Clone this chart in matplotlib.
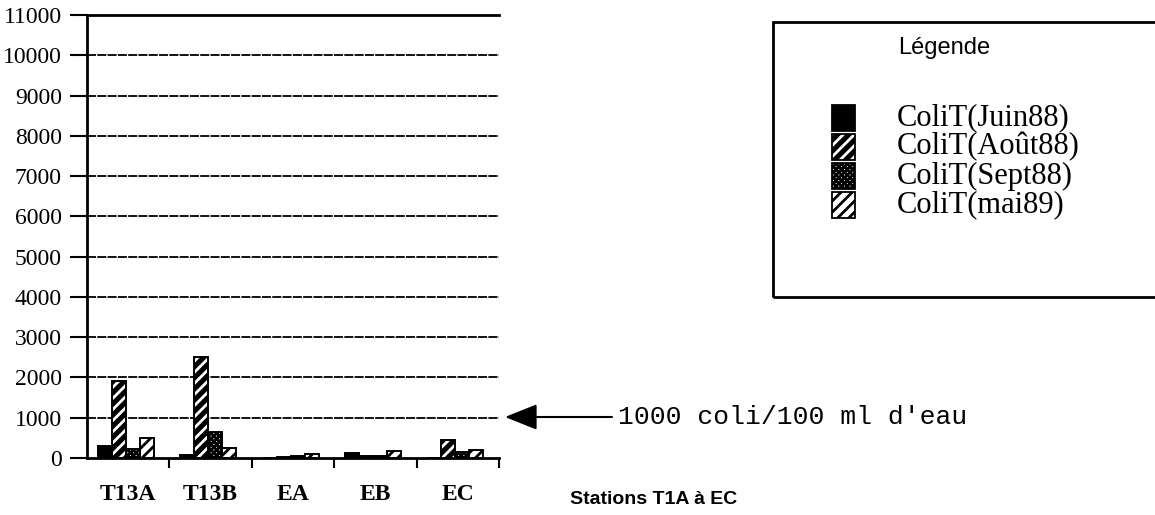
import matplotlib
matplotlib.use('Agg')
import matplotlib.pyplot as plt
from matplotlib.patches import Rectangle
import numpy as np

plt.rcParams['hatch.linewidth'] = 2.0

# Coliformes thermotolérants par station et par campagne
stations = ['T13A', 'T13B', 'EA', 'EB', 'EC']
juin88 = [300, 80, 10, 120, 10]
aout88 = [1900, 2500, 30, 50, 440]
sept88 = [220, 640, 50, 50, 150]
mai89 = [500, 250, 100, 170, 190]

labels = ['ColiT(Juin88)', 'ColiT(Août88)', 'ColiT(Sept88)', 'ColiT(mai89)']
values = [juin88, aout88, sept88, mai89]
# (fond, couleur des hachures, motif)
styles = [('black', 'black', ''),
          ('black', 'white', '///'),
          ('white', 'black', 'xxxxxx'),
          ('white', 'black', '///')]

W, H = 1155, 515
fig = plt.figure(figsize=(W / 100, H / 100), dpi=100)
ax = fig.add_axes([87 / W, 57 / H, 412 / W, 443 / H])

x = np.arange(len(stations))
w = 0.17
for i, (vals, (fc, hc, hatch)) in enumerate(zip(values, styles)):
    pos = x + (i - 1.5) * w - 0.03
    ax.bar(pos, vals, w, color=fc, edgecolor=hc, hatch=hatch, linewidth=0, zorder=3)
    ax.bar(pos, vals, w, fill=False, edgecolor='black', linewidth=1.4, zorder=4)

ax.set_xlim(-0.5, len(stations) - 0.5)
ax.set_ylim(0, 11000)
ax.set_yticks(np.arange(0, 11001, 1000))
ax.set_yticklabels([str(v) for v in range(0, 11001, 1000)],
                   family='Liberation Serif', fontsize=17)
ax.set_xticks(np.arange(0.5, len(stations), 1))
ax.set_xticklabels([])
ax.set_xticks(x, minor=True)
ax.set_xticklabels(stations, minor=True, family='Liberation Serif',
                   fontsize=17, fontweight='bold')
ax.tick_params(axis='x', which='minor', length=0, pad=19)
ax.tick_params(axis='x', which='major', direction='out', length=7, width=1.5)
ax.tick_params(axis='y', direction='out', length=12, width=1.5, pad=6)

for s in ['top', 'right']:
    ax.spines[s].set_visible(False)
ax.spines['left'].set_linewidth(2)
ax.spines['bottom'].set_linewidth(2)

for v in range(1000, 11000, 1000):
    ax.axhline(v, color='black', lw=1.3, ls=(0, (5, 0.7)), zorder=1)
ax.axhline(11000, color='black', lw=2, zorder=1, clip_on=False)

# flèche vers le seuil de 1000 coli
ax.annotate('', xy=(505, H - 417), xycoords='figure pixels',
            xytext=(612, H - 417), textcoords='figure pixels',
            arrowprops=dict(arrowstyle='-|>,head_length=1.0,head_width=0.4',
                            color='black', lw=1.5, mutation_scale=20,
                            shrinkA=0, shrinkB=0))
fig.text(618 / W, 1 - 417 / H, '1000 coli/100 ml d\'eau', family='Liberation Mono',
         fontsize=19, ha='left', va='center')

fig.text(570 / W, 1 - 500 / H, 'Stations T1A à EC', family='Liberation Sans',
         fontweight='bold', fontsize=14, ha='left', va='center')

# légende encadrée
fig.add_artist(Rectangle((773 / W, 1 - 297 / H), 0.4, (297 - 22) / H,
                         transform=fig.transFigure, fill=False,
                         edgecolor='black', lw=2, clip_on=False))
fig.text(898 / W, 1 - 48 / H, 'Légende', family='Liberation Sans',
         fontsize=17, ha='left', va='center')
for k, (lab, (fc, hc, hatch)) in enumerate(zip(labels, styles)):
    yc = 118 + 29 * k
    fig.add_artist(Rectangle((832 / W, 1 - (yc + 13) / H), 23 / W, 26 / H,
                             transform=fig.transFigure, facecolor=fc,
                             edgecolor=hc, hatch=hatch, lw=0))
    fig.add_artist(Rectangle((832 / W, 1 - (yc + 13) / H), 23 / W, 26 / H,
                             transform=fig.transFigure, fill=False,
                             edgecolor='black', lw=1.3))
    fig.text(897 / W, 1 - yc / H, lab, family='Liberation Serif',
             fontsize=22, ha='left', va='center')

fig.savefig('out.png', dpi=100)
